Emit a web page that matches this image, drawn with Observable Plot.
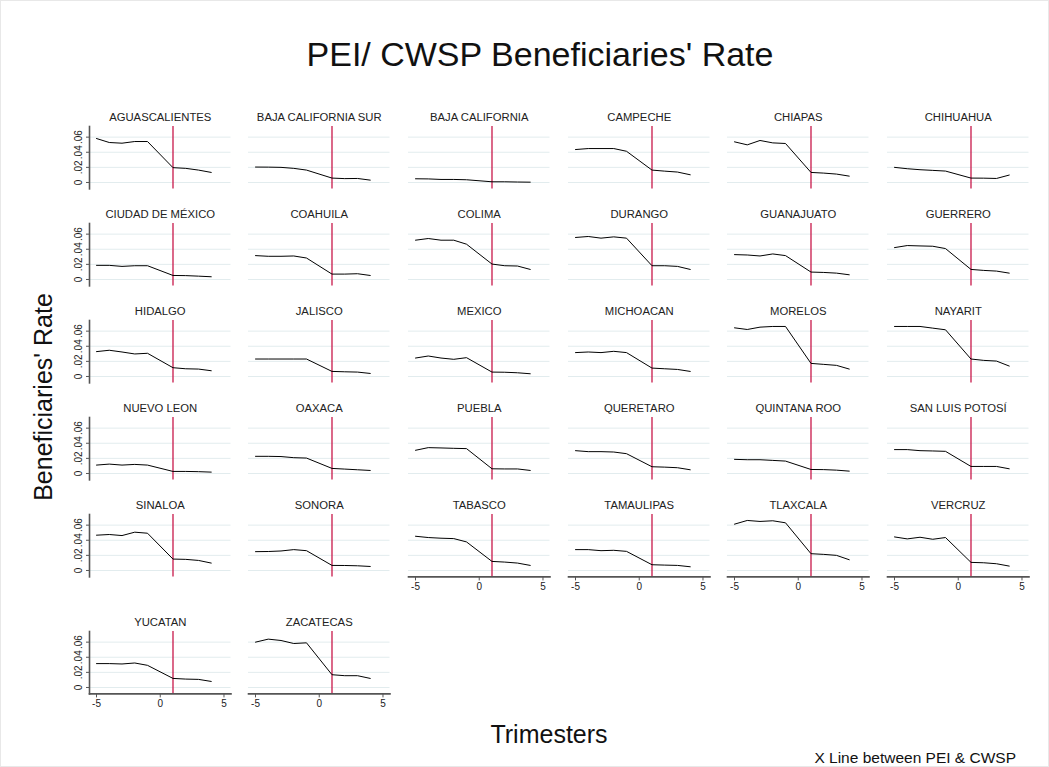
<!DOCTYPE html>
<html>
<head>
<meta charset="utf-8">
<script src="https://cdn.jsdelivr.net/npm/d3@7"></script>
<script src="https://cdn.jsdelivr.net/npm/@observablehq/plot@0.6"></script>
<style>
  html, body { margin: 0; padding: 0; background: #fff; }
  #chart { position: relative; width: 1047px; height: 765px; border: 1px solid #e8e8e8; overflow: hidden;
           font-family: "Liberation Sans", Arial, Helvetica, sans-serif; color: #111; }
  .lbl { position: absolute; white-space: nowrap; line-height: 1; }
  .panel { position: absolute; }
</style>
</head>
<body>
<div id="chart"></div>
<script>
// ---------- data ----------
const states = [
  "AGUASCALIENTES", "BAJA CALIFORNIA SUR", "BAJA CALIFORNIA", "CAMPECHE", "CHIAPAS", "CHIHUAHUA",
  "CIUDAD DE MÉXICO", "COAHUILA", "COLIMA", "DURANGO", "GUANAJUATO", "GUERRERO",
  "HIDALGO", "JALISCO", "MEXICO", "MICHOACAN", "MORELOS", "NAYARIT",
  "NUEVO LEON", "OAXACA", "PUEBLA", "QUERETARO", "QUINTANA ROO", "SAN LUIS POTOSÍ",
  "SINALOA", "SONORA", "TABASCO", "TAMAULIPAS", "TLAXCALA", "VERCRUZ",
  "YUCATAN", "ZACATECAS"
];
const trimesters = [-5, -4, -3, -2, -1, 1, 2, 3, 4];
const rates = [
  [0.0582, 0.0529, 0.0520, 0.0542, 0.0542, 0.0196, 0.0187, 0.0164, 0.0133], // AGUASCALIENTES
  [0.0204, 0.0203, 0.0200, 0.0187, 0.0164, 0.0058, 0.0051, 0.0053, 0.0031], // BAJA CALIFORNIA SUR
  [0.0049, 0.0047, 0.0040, 0.0040, 0.0036, 0.0009, 0.0009, 0.0006, 0.0004], // BAJA CALIFORNIA
  [0.0436, 0.0449, 0.0449, 0.0449, 0.0413, 0.0164, 0.0150, 0.0138, 0.0102], // CAMPECHE
  [0.0538, 0.0498, 0.0556, 0.0524, 0.0516, 0.0133, 0.0124, 0.0111, 0.0084], // CHIAPAS
  [0.0200, 0.0182, 0.0169, 0.0160, 0.0151, 0.0058, 0.0057, 0.0053, 0.0098], // CHIHUAHUA
  [0.0187, 0.0187, 0.0173, 0.0182, 0.0182, 0.0053, 0.0051, 0.0044, 0.0036], // CIUDAD DE MÉXICO
  [0.0316, 0.0307, 0.0307, 0.0311, 0.0284, 0.0071, 0.0071, 0.0076, 0.0053], // COAHUILA
  [0.0520, 0.0542, 0.0520, 0.0520, 0.0467, 0.0204, 0.0182, 0.0178, 0.0133], // COLIMA
  [0.0556, 0.0569, 0.0547, 0.0564, 0.0547, 0.0182, 0.0182, 0.0173, 0.0133], // DURANGO
  [0.0329, 0.0324, 0.0311, 0.0338, 0.0316, 0.0098, 0.0093, 0.0084, 0.0062], // GUANAJUATO
  [0.0422, 0.0449, 0.0444, 0.0440, 0.0409, 0.0133, 0.0120, 0.0111, 0.0084], // GUERRERO
  [0.0329, 0.0347, 0.0324, 0.0298, 0.0307, 0.0116, 0.0102, 0.0098, 0.0076], // HIDALGO
  [0.0231, 0.0231, 0.0231, 0.0231, 0.0231, 0.0067, 0.0062, 0.0058, 0.0040], // JALISCO
  [0.0244, 0.0271, 0.0244, 0.0227, 0.0249, 0.0058, 0.0056, 0.0049, 0.0036], // MEXICO
  [0.0316, 0.0324, 0.0316, 0.0333, 0.0316, 0.0111, 0.0102, 0.0093, 0.0067], // MICHOACAN
  [0.0644, 0.0622, 0.0653, 0.0662, 0.0662, 0.0173, 0.0160, 0.0147, 0.0098], // MORELOS
  [0.0662, 0.0662, 0.0662, 0.0640, 0.0618, 0.0231, 0.0213, 0.0204, 0.0138], // NAYARIT
  [0.0111, 0.0124, 0.0111, 0.0120, 0.0111, 0.0027, 0.0027, 0.0024, 0.0018], // NUEVO LEON
  [0.0227, 0.0227, 0.0224, 0.0209, 0.0204, 0.0067, 0.0058, 0.0049, 0.0040], // OAXACA
  [0.0307, 0.0342, 0.0338, 0.0333, 0.0329, 0.0062, 0.0060, 0.0060, 0.0040], // PUEBLA
  [0.0302, 0.0289, 0.0289, 0.0284, 0.0262, 0.0089, 0.0084, 0.0076, 0.0049], // QUERETARO
  [0.0187, 0.0182, 0.0182, 0.0173, 0.0164, 0.0053, 0.0051, 0.0044, 0.0031], // QUINTANA ROO
  [0.0316, 0.0316, 0.0302, 0.0298, 0.0293, 0.0093, 0.0093, 0.0093, 0.0062], // SAN LUIS POTOSÍ
  [0.0467, 0.0476, 0.0462, 0.0507, 0.0493, 0.0151, 0.0147, 0.0133, 0.0098], // SINALOA
  [0.0249, 0.0251, 0.0258, 0.0276, 0.0262, 0.0067, 0.0066, 0.0062, 0.0053], // SONORA
  [0.0453, 0.0436, 0.0427, 0.0422, 0.0378, 0.0120, 0.0111, 0.0098, 0.0067], // TABASCO
  [0.0276, 0.0276, 0.0262, 0.0267, 0.0253, 0.0076, 0.0071, 0.0067, 0.0049], // TAMAULIPAS
  [0.0613, 0.0662, 0.0649, 0.0658, 0.0631, 0.0222, 0.0213, 0.0200, 0.0142], // TLAXCALA
  [0.0444, 0.0418, 0.0440, 0.0413, 0.0436, 0.0107, 0.0102, 0.0089, 0.0058], // VERCRUZ
  [0.0316, 0.0316, 0.0311, 0.0324, 0.0293, 0.0120, 0.0111, 0.0107, 0.0080], // YUCATAN
  [0.0600, 0.0640, 0.0622, 0.0582, 0.0591, 0.0169, 0.0156, 0.0156, 0.0120]  // ZACATECAS
];
const cutoff = 1;
const yTicks = [0, 0.02, 0.04, 0.06];
const xTicks = [-5, 0, 5];
const titleText = "PEI/ CWSP Beneficiaries' Rate";
const yTitle = "Beneficiaries' Rate";
const xTitle = "Trimesters";
const noteText = "X Line between PEI & CWSP";

// ---------- layout ----------
const nCols = 6;
const colLeft0 = 87.6, colStep = 159.7;
const plotW = 141.5, plotH = 62.4;
const rowZero = [181, 278.2, 375.3, 472.3, 569.4, 686];
const zeroFromTop = 56;
const mL = 34, mR = 6, mT = 24, mB = 28;
const xDomain = [-5.55, 5.55];
const yDomain = [-0.0085, 0.0741];
const fmtY = d => d === 0 ? "0" : d3.format(".2f")(d).replace(/^0/, "");
const fmtX = d => String(d);

const chart = document.getElementById("chart");
function addLabel(text, css) {
  const el = document.createElement("div");
  el.className = "lbl";
  el.textContent = text;
  Object.assign(el.style, css);
  chart.appendChild(el);
}
addLabel(titleText, {left: "539px", top: "53px", fontSize: "34px", transform: "translate(-50%,-50%)"});
addLabel(yTitle, {left: "42px", top: "396px", fontSize: "25px", transform: "translate(-50%,-50%) rotate(-90deg)"});
addLabel(xTitle, {left: "548px", top: "733px", fontSize: "25px", transform: "translate(-50%,-50%)"});
addLabel(noteText, {left: "1015px", top: "757px", fontSize: "15.5px", transform: "translate(-100%,-50%)"});

states.forEach((name, i) => {
  const r = Math.floor(i / nCols), c = i % nCols;
  const hasXAxis = i + nCols >= states.length;
  const hasYAxis = c === 0;
  const data = trimesters.map((t, k) => ({t, v: rates[i][k]}));
  const marks = [
    Plot.gridY(yTicks, {stroke: "#e2ecee", strokeOpacity: 1, strokeWidth: 1}),
    Plot.ruleX([cutoff], {stroke: "#c8184a", strokeWidth: 1.3}),
    Plot.line(data, {x: "t", y: "v", stroke: "#000", strokeWidth: 1}),
    Plot.text([name], {frameAnchor: "top", dy: -9, lineAnchor: "middle", fontSize: 11.3, fill: "#222"})
  ];
  if (hasYAxis) {
    marks.push(Plot.frame({anchor: "left", stroke: "#555", strokeWidth: 1.6}));
    marks.push(Plot.axisY({ticks: yTicks, tickSize: 3, tickFormat: () => "", label: null, stroke: "#555"}));
    marks.push(Plot.text(yTicks, {y: d => d, text: fmtY, frameAnchor: "left", dx: -11, rotate: -90,
      textAnchor: "middle", lineAnchor: "middle", fontSize: 10, fill: "#222"}));
  }
  if (hasXAxis) {
    marks.push(Plot.frame({anchor: "bottom", stroke: "#555", strokeWidth: 1.6}));
    marks.push(Plot.axisX({ticks: xTicks, tickFormat: fmtX, tickSize: 4, tickPadding: 2, label: null,
      fontSize: 10, stroke: "#555", color: "#222"}));
  }
  const svg = Plot.plot({
    width: plotW + mL + mR,
    height: plotH + mT + mB,
    marginLeft: mL, marginRight: mR, marginTop: mT, marginBottom: mB,
    style: {fontFamily: '"Liberation Sans", Arial, Helvetica, sans-serif', background: "transparent", overflow: "visible"},
    x: {domain: xDomain, axis: null},
    y: {domain: yDomain, axis: null},
    marks
  });
  const wrap = document.createElement("div");
  wrap.className = "panel";
  wrap.style.left = (colLeft0 + colStep * c - mL) + "px";
  wrap.style.top = (rowZero[r] - zeroFromTop - mT) + "px";
  wrap.appendChild(svg);
  chart.appendChild(wrap);
});
</script>
</body>
</html>
